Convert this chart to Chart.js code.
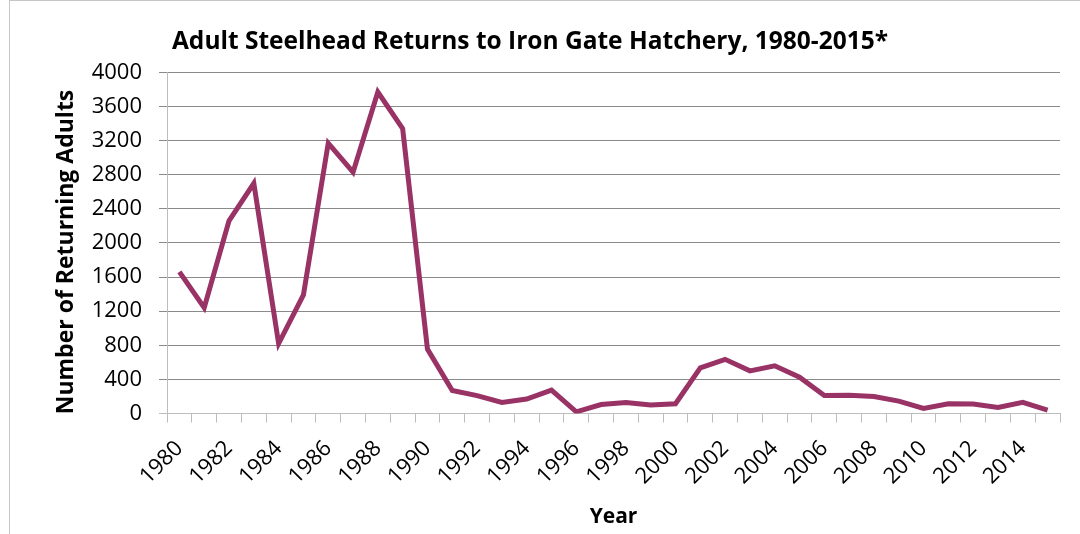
<!DOCTYPE html>
<html>
<head>
<meta charset="utf-8">
<script src="https://cdn.jsdelivr.net/npm/chart.js@4.4.1/dist/chart.umd.min.js"></script>
<style>
  html, body { margin: 0; padding: 0; background: #fff; }
  #frame { position: absolute; left: 9px; top: 0; width: 1100px; height: 600px; border: 1px solid #c6c6c6; }
  #wrap { position: absolute; left: 0; top: 0; width: 1080px; height: 534px; }
</style>
</head>
<body>
<div id="frame"></div>
<div id="wrap"><canvas id="returns"></canvas></div>
<script>
// adult steelhead counts at Iron Gate Hatchery, one value per return year
var years = [];
for (var y = 1980; y <= 2015; y++) years.push(String(y));

var adults = [
  1660, 1240, 2260, 2700, 820, 1390, 3170, 2830, 3770, 3340,
  755, 270, 210, 130, 170, 275, 20, 105, 130, 100,
  115, 535, 635, 500, 560, 425, 210, 215, 200, 145,
  60, 115, 110, 70, 130, 40
];

var yTicks = [0, 400, 800, 1200, 1600, 2000, 2400, 2800, 3200, 3600, 4000];

var FONT = '"Open Sans", "Noto Sans", sans-serif';
var gridDark = "#8a8a8a",
  axisLight = "#bdbdbd";

// vertical axis caption, drawn by hand so it can sit a little below centre
var yCaption = {
  id: "yCaption",
  afterDraw: function (chart) {
    var ctx = chart.ctx;
    ctx.save();
    ctx.translate(66, 252);
    ctx.rotate(-Math.PI / 2);
    ctx.font = "bold 23px " + FONT;
    ctx.fillStyle = "#000";
    ctx.textAlign = "center";
    ctx.textBaseline = "middle";
    ctx.fillText("Number of Returning Adults", 0, 0);
    ctx.restore();
  },
};

new Chart(document.getElementById("returns").getContext("2d"), {
  type: "line",
  data: {
    labels: years,
    datasets: [
      {
        label: "Returning adults",
        data: adults,
        borderColor: "#993366",
        borderWidth: 5,
        pointRadius: 0,
        tension: 0,
        fill: false,
      },
    ],
  },
  plugins: [yCaption],
  options: {
    responsive: true,
    maintainAspectRatio: false,
    animation: false,
    layout: { padding: { left: 0, right: 20, top: 0, bottom: 0 } },
    plugins: {
      legend: { display: false },
      tooltip: { enabled: false },
      title: {
        display: true,
        text: "Adult Steelhead Returns to Iron Gate Hatchery, 1980-2015*",
        color: "#000",
        font: { family: FONT, size: 24.5, weight: "bold" },
        padding: { top: 27, bottom: 16 },
      },
    },
    scales: {
      x: {
        type: "category",
        offset: true,
        grid: {
          display: true,
          offset: true,
          drawOnChartArea: false,
          drawTicks: true,
          tickLength: 9,
          color: axisLight,
        },
        border: { display: true, color: axisLight, width: 1 },
        ticks: {
          autoSkip: false,
          maxRotation: 45,
          minRotation: 45,
          padding: 13,
          color: "#000",
          font: { family: FONT, size: 22 },
          callback: function (v, i) {
            return i % 2 === 0 ? years[i] : "";
          },
        },
        title: {
          display: true,
          text: "Year",
          color: "#000",
          font: { family: FONT, size: 21, weight: "bold" },
          padding: { top: 0, bottom: 4 },
        },
        afterFit: function (s) {
          s.height = 120.5;
          s.paddingLeft = 0;
          s.paddingRight = 0;
        },
      },
      y: {
        min: 0,
        max: 4000,
        afterBuildTicks: function (s) {
          s.ticks = yTicks.map(function (v) {
            return { value: v };
          });
        },
        grid: {
          drawTicks: true,
          tickLength: 8,
          color: function (c) {
            return c.tick && c.tick.value === 0 ? axisLight : gridDark;
          },
        },
        border: { display: true, color: axisLight, width: 1 },
        ticks: {
          padding: 17,
          color: "#000",
          font: { family: FONT, size: 22 },
          callback: function (v) {
            return String(v);
          },
        },
        title: { display: false },
        afterFit: function (s) {
          s.width = 167;
        },
      },
    },
  },
});
</script>
</body>
</html>
